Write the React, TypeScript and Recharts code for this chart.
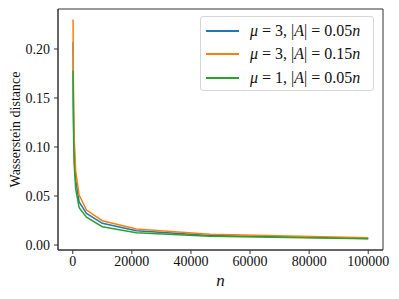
import { Line, LineChart, ReferenceArea, XAxis, YAxis } from "recharts";

const nValues = [100, 215, 464, 1000, 2154, 4642, 10000, 21544, 46416, 100000];
const mu3Small = [0.207, 0.141, 0.097, 0.066, 0.044, 0.0323, 0.0221, 0.0146, 0.0097, 0.0066];
const mu3Large = [0.23, 0.16, 0.11, 0.075, 0.051, 0.0357, 0.0248, 0.0163, 0.0109, 0.0075];
const mu1Small = [0.178, 0.122, 0.083, 0.057, 0.038, 0.0283, 0.0187, 0.0126, 0.0089, 0.0063];

const xTicks = [0, 20000, 40000, 60000, 80000, 100000];
const yTicks = [0, 0.05, 0.1, 0.15, 0.2];
const xDomain = [-5000, 105000];
const yDomain = [-0.0051, 0.2408];

const series = [
  { key: "a", mu: "3", frac: "0.05", color: "#1f77b4" },
  { key: "b", mu: "3", frac: "0.15", color: "#ff7f0e" },
  { key: "c", mu: "1", frac: "0.05", color: "#2ca02c" },
];

const data = nValues.map((n, i) => ({
  n,
  a: mu3Small[i],
  b: mu3Large[i],
  c: mu1Small[i],
}));

const FONT = "'Liberation Serif', serif";
const AXIS = "#333";
const tickStyle = { fill: "#111", fontSize: 14, style: { fontFamily: FONT } };

function YTitle({ viewBox }: any) {
  const x = viewBox.x + 15;
  const y = viewBox.y + viewBox.height / 2;
  return (
    <text x={x} y={y} transform={`rotate(-90, ${x}, ${y})`} textAnchor="middle" dominantBaseline="central" style={{ fontFamily: FONT }} fontSize={14} fill="#111">
      Wasserstein distance
    </text>
  );
}

function XTitle({ viewBox }: any) {
  const x = viewBox.x + viewBox.width / 2;
  return (
    <text x={x} y={viewBox.y + 36} textAnchor="middle" style={{ fontFamily: FONT, fontStyle: "italic" }} fontSize={17} fill="#111">
      n
    </text>
  );
}

function LegendBox() {
  return (
    <div
      style={{
        position: "absolute",
        left: 200,
        top: 16,
        width: 174,
        height: 75,
        border: "1px solid #d6d6d6",
        borderRadius: 3,
        background: "#fff",
        padding: "2px 4px 2px 5px",
        fontFamily: FONT,
        fontSize: 16,
        color: "#111",
        boxSizing: "border-box",
      }}
    >
      {series.map((s) => (
        <div key={s.key} style={{ display: "flex", alignItems: "center", height: 23.5 }}>
          <span style={{ display: "inline-block", width: 33, height: 2, background: s.color, marginRight: 11 }} />
          <span style={{ whiteSpace: "nowrap" }}>
            <i>μ</i> = {s.mu}, |<i>A</i>| = {s.frac}<i>n</i>
          </span>
        </div>
      ))}
    </div>
  );
}

export default function App() {
  return (
    <div style={{ position: "absolute", left: 0, top: 0, width: 399, height: 299, background: "#fff" }}>
      <LineChart width={399} height={299} data={data} margin={{ top: 9, right: 16, left: 0, bottom: 0 }}>
        <XAxis
          dataKey="n"
          type="number"
          domain={xDomain}
          ticks={xTicks}
          allowDataOverflow
          height={49}
          tickSize={4}
          tickMargin={2}
          stroke={AXIS}
          tick={tickStyle}
          label={<XTitle />}
        />
        <YAxis
          type="number"
          domain={yDomain}
          ticks={yTicks}
          allowDataOverflow
          width={58}
          tickSize={4}
          tickMargin={4}
          stroke={AXIS}
          tickFormatter={(v: number) => v.toFixed(2)}
          tick={tickStyle}
          label={<YTitle />}
        />
        <ReferenceArea x1={xDomain[0]} x2={xDomain[1]} y1={yDomain[0]} y2={yDomain[1]} fill="none" fillOpacity={0} stroke={AXIS} strokeWidth={1} ifOverflow="visible" />
        {series.map((s) => (
          <Line
            key={s.key}
            dataKey={s.key}
            stroke={s.color}
            strokeWidth={1.5}
            dot={false}
            type="linear"
            isAnimationActive={false}
          />
        ))}
      </LineChart>
      <LegendBox />
    </div>
  );
}
